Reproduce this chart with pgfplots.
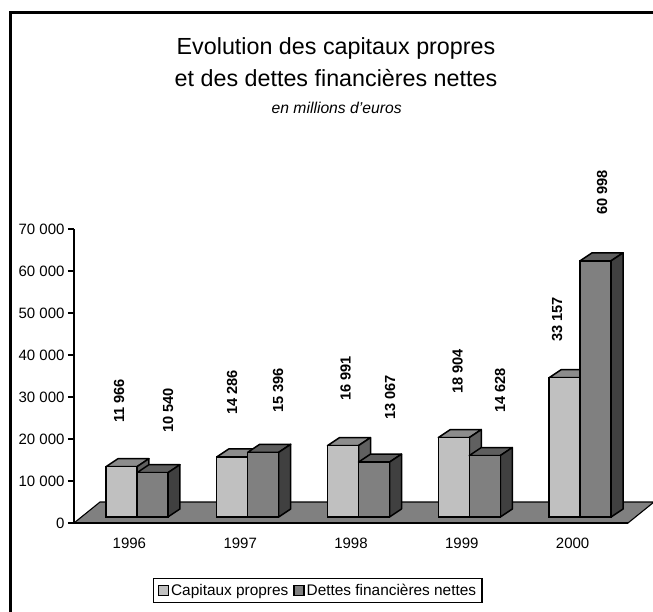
\documentclass[border=0pt]{standalone}
\usepackage{pgfplots}
\pgfplotsset{compat=1.18}
\usepackage{fontspec}
\setmainfont{Liberation Sans}
\definecolor{lightF}{HTML}{C0C0C0}
\definecolor{lightT}{HTML}{8C8C8C}
\definecolor{lightS}{HTML}{606060}
\definecolor{darkF}{HTML}{808080}
\definecolor{darkT}{HTML}{5E5E5E}
\definecolor{darkS}{HTML}{404040}
\newcommand{\fs}[1]{\fontsize{#1}{#1}\selectfont}
% cube: #1 category index, #2 left offset (px from group centre), #3 width px, #4 value, #5 side, #6 top
\newcommand{\cube}[6]{%
  \pgfmathsetmacro\xa{#1+0.5+(#2)/110.8}%
  \pgfmathsetmacro\xb{\xa+(#3)/110.8}%
  \pgfmathsetmacro\xc{\xa+12/110.8}%
  \pgfmathsetmacro\xd{\xb+12/110.8}%
  \edef\yt{\the\numexpr#4+1905\relax}%
  \edef\temp{\noexpand\addplot[forget plot,sharp plot,fill=#6,draw=black,line width=1.5pt,line join=round] coordinates {(\xa,#4)(\xb,#4)(\xd,\yt)(\xc,\yt)} -- cycle;
  \noexpand\addplot[forget plot,sharp plot,fill=#5,draw=black,line width=1.5pt,line join=round] coordinates {(\xb,0)(\xd,1905)(\xd,\yt)(\xb,#4)} -- cycle;}%
  \temp}
\begin{document}
\begin{tikzpicture}[x=1pt,y=1pt]
\path[use as bounding box] (0,0) rectangle (653,611);
\clip (0,0) rectangle (653,611);
\draw[line width=2.2pt] (10.5,-2) -- (10.5,598.5) -- (655,598.5);
\node[align=center,font=\fs{23.3}] at (336,563) {Evolution des capitaux propres};
\node[align=center,font=\fs{23.3}] at (336,533) {et des dettes financières nettes};
\node[font=\fs{15.7}\itshape] at (336.7,503.5) {en millions d\symbol{39}euros};
% base axis
\begin{axis}[
  at={(74pt,88pt)},anchor=south west,scale only axis,width=554pt,height=294pt,
  xmin=0,xmax=5,ymin=0,ymax=70000,clip=false,
  axis lines*=left,axis line style={line width=2pt,-},
  tick align=outside,tick style={black,line width=1.5pt},
  xtick={0.5,1.5,2.5,3.5,4.5},xticklabels={1996,1997,1998,1999,2000},
  minor xtick={0,1,2,3,4,5},
  major tick length=6pt,minor tick length=5pt,
  xtick style={draw=none},
  x tick label style={font=\fs{15},yshift=-5.5pt},
  ytick={0,10000,20000,30000,40000,50000,60000,70000},
  scaled y ticks=false,
  y tick label style={font=\fs{15},/pgf/number format/1000 sep={\ },/pgf/number format/assume math mode=true},
  minor x tick style={black,line width=1.5pt},
  axis on top,
]
\addplot[forget plot,fill=darkF,draw=black,line width=1.1pt] coordinates {(0,0)(0.2347,5000)(5.2347,5000)(5,0)} -- cycle;
\end{axis}
% bars: same frame, zero is raised to the front edge of the bars
\begin{axis}[
  at={(74pt,88pt)},anchor=south west,scale only axis,width=554pt,height=294pt,
  xmin=0,xmax=5,ymin=-1430,ymax=68570,clip=false,hide axis,
  ybar,bar width=31pt,
  legend columns=2,
  legend style={at={(0.4404,-0.2296)},anchor=center,draw=black,line width=1.4pt,font=\fs{15.4},
    /tikz/every even column/.style={column sep=3pt},inner xsep=4pt,inner ysep=3.5pt},
  legend image code/.code={\draw[#1,line width=1.3pt,bar shift=0pt] (0pt,-5pt) rectangle (10pt,5pt);},
]
\cube{0}{-23.5}{31}{11966}{lightS}{lightT}
\cube{1}{-23.5}{31}{14286}{lightS}{lightT}
\cube{2}{-23.5}{31}{16991}{lightS}{lightT}
\cube{3}{-23.5}{31}{18904}{lightS}{lightT}
\cube{4}{-23.5}{31}{33157}{lightS}{lightT}
\addplot[fill=lightF,draw=black,line width=1.5pt,bar shift=-8pt] coordinates {(0.5,11966)(1.5,14286)(2.5,16991)(3.5,18904)(4.5,33157)};
\addlegendentry{Capitaux propres}
\cube{0}{7.5}{31}{10540}{darkS}{darkT}
\cube{1}{7.5}{31}{15396}{darkS}{darkT}
\cube{2}{7.5}{31}{13067}{darkS}{darkT}
\cube{3}{7.5}{31}{14628}{darkS}{darkT}
\cube{4}{7.5}{31}{60998}{darkS}{darkT}
\addplot[fill=darkF,draw=black,line width=1.5pt,bar shift=23pt] coordinates {(0.5,10540)(1.5,15396)(2.5,13067)(3.5,14628)(4.5,60998)};
\addlegendentry{Dettes financières nettes}
\end{axis}
\newcommand{\lab}[3]{\node[rotate=90,anchor=west,inner sep=0pt,font=\fs{14.6}\bfseries] at (#1,611-#2) {#3};}
\lab{119}{423}{11 966}
\lab{168}{433}{10 540}
\lab{232}{415}{14 286}
\lab{278}{413}{15 396}
\lab{345.7}{401}{16 991}
\lab{390}{420}{13 067}
\lab{457.7}{394}{18 904}
\lab{500}{413}{14 628}
\lab{557}{342}{33 157}
\lab{602}{215}{60 998}
\end{tikzpicture}
\end{document}
